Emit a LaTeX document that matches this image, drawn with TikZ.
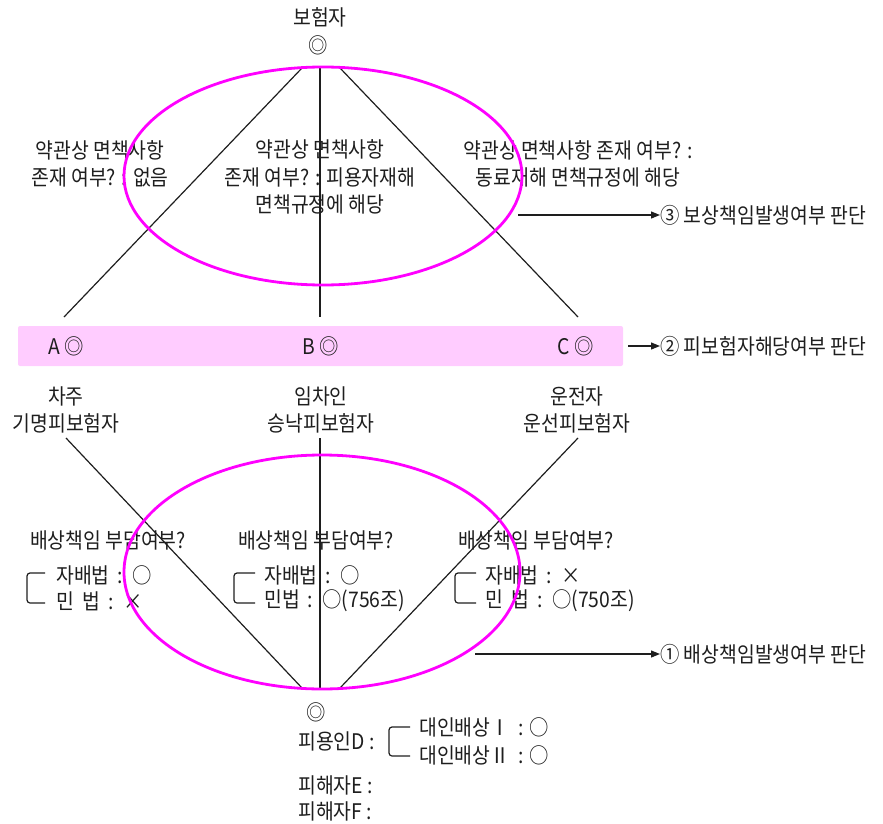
\documentclass[tikz,border=0pt]{standalone}
\usepackage{fontspec}
\setmainfont{Noto Sans CJK KR}[FakeStretch=0.9]
\usetikzlibrary{arrows.meta}
\definecolor{mag}{RGB}{255,0,255}
\definecolor{band}{RGB}{255,204,255}
\definecolor{ink}{RGB}{30,30,30}
\tikzset{
  txt/.style={inner sep=0pt, text=ink, font=\fontsize{21.5}{27.5}\selectfont, align=center},
  ltxt/.style={txt, anchor=west, align=left},
  thin/.style={draw=ink, line width=1.2pt},
  oval/.style={draw=mag, line width=2.8pt},
  arr/.style={draw=ink, line width=1.2pt, -{Triangle[length=9pt,width=7pt]}},
  brk/.style={draw=ink, line width=1.2pt, rounded corners=3pt},
}
\begin{document}
\begin{tikzpicture}[x=1pt,y=-1pt]
\useasboundingbox (0,0) rectangle (883,824);
% band
\node[fill=band, minimum width=605pt, minimum height=40pt, rounded corners=2pt, inner sep=0pt] (band) at (320.5,346) {};
\node[txt] (A) at (66,346) {A ◎};
\node[txt] (B) at (321,346) {B ◎};
\node[txt] (C) at (576,346) {C ◎};
% top
\node[txt] (ins) at (320,17) {보험자};
\node[txt] (insm) at (318,45) {◎};
\coordinate (tL) at (302,68);
\coordinate (tM) at (320,68);
\coordinate (tR) at (340,68);
\coordinate (aTop) at (64,317);
\coordinate (bTop) at (320,317);
\coordinate (cTop) at (578,317);
\draw[thin] (tL) -- (aTop);
\draw[thin] (tM) -- (bTop);
\draw[thin] (tR) -- (cTop);
\node[txt] (t1) at (100,164) {약관상 면책사항\\존재 여부? : 없음};
\node[txt] (t2) at (320,177) {약관상 면책사항\\존재 여부? : 피용자재해\\면책규정에 해당};
\node[txt] (t3) at (578,164) {약관상 면책사항 존재 여부? :\\동료재해 면책규정에 해당};
\draw[oval] (323,176) ellipse [x radius=199pt, y radius=109pt];
\coordinate (o3) at (518,215);
\node[txt, anchor=west] (l3) at (660,215) {③ 보상책임발생여부 판단};
\draw[arr] (o3) -- (l3.west);
\coordinate (bandE) at (628,346);
\node[txt, anchor=west] (l2) at (660,346) {② 피보험자해당여부 판단};
\draw[arr] (bandE) -- (l2.west);
% roles
\node[txt] (r1) at (66,410) {차주\\기명피보험자};
\node[txt] (r2) at (321,410) {임차인\\승낙피보험자};
\node[txt] (r3) at (577,410) {운전자\\운선피보험자};
% bottom lines
\coordinate (aBot) at (66,438);
\coordinate (bBot) at (320,438);
\coordinate (cBot) at (578,438);
\coordinate (dL) at (302,688);
\coordinate (dM) at (320,688);
\coordinate (dR) at (340,688);
\draw[thin] (aBot) -- (dL);
\draw[thin] (bBot) -- (dM);
\draw[thin] (cBot) -- (dR);
% liability texts
\node[txt] (q1) at (108,540) {배상책임 부담여부?};
\node[txt] (q2) at (316,540) {배상책임 부담여부?};
\node[txt] (q3) at (536,540) {배상책임 부담여부?};
\draw[brk] (45,573) -- (27,573) -- (27,603) -- (45,603);
\node[ltxt] (a1) at (56,575) {자배법 \,:\, ○};
\node[ltxt] (b1) at (56,601) {민 \ 법 \,:\, ×};
\draw[brk] (255,573) -- (234,573) -- (234,603) -- (255,603);
\node[ltxt] (a2) at (264,575) {자배법 \,:\, ○};
\node[ltxt] (b2) at (264,601) {민법 \,:\, ○(756조)};
\draw[brk] (476,573) -- (455,573) -- (455,603) -- (476,603);
\node[ltxt] (a3) at (485,575) {자배법 \,:\, ×};
\node[ltxt] (b3) at (485,601) {민 \ 법 \,:\, ○(750조)};
\draw[oval] (322,572) ellipse [x radius=198pt, y radius=117pt];
\coordinate (o1) at (475,654);
\node[txt, anchor=west] (l1) at (660,654) {① 배상책임발생여부 판단};
\draw[arr] (o1) -- (l1.west);
% bottom
\node[txt] (dm) at (316,712) {◎};
\node[ltxt] (D) at (298,741) {피용인D :};
\draw[brk] (410,727) -- (389,727) -- (389,756) -- (410,756);
\node[ltxt] (p1) at (419,727) {대인배상Ⅰ \ : ○};
\node[ltxt] (p2) at (419,755) {대인배상Ⅱ \ : ○};
\node[ltxt] (E) at (298,785) {피해자E :};
\node[ltxt] (F) at (298,811) {피해자F :};
\end{tikzpicture}
\end{document}
